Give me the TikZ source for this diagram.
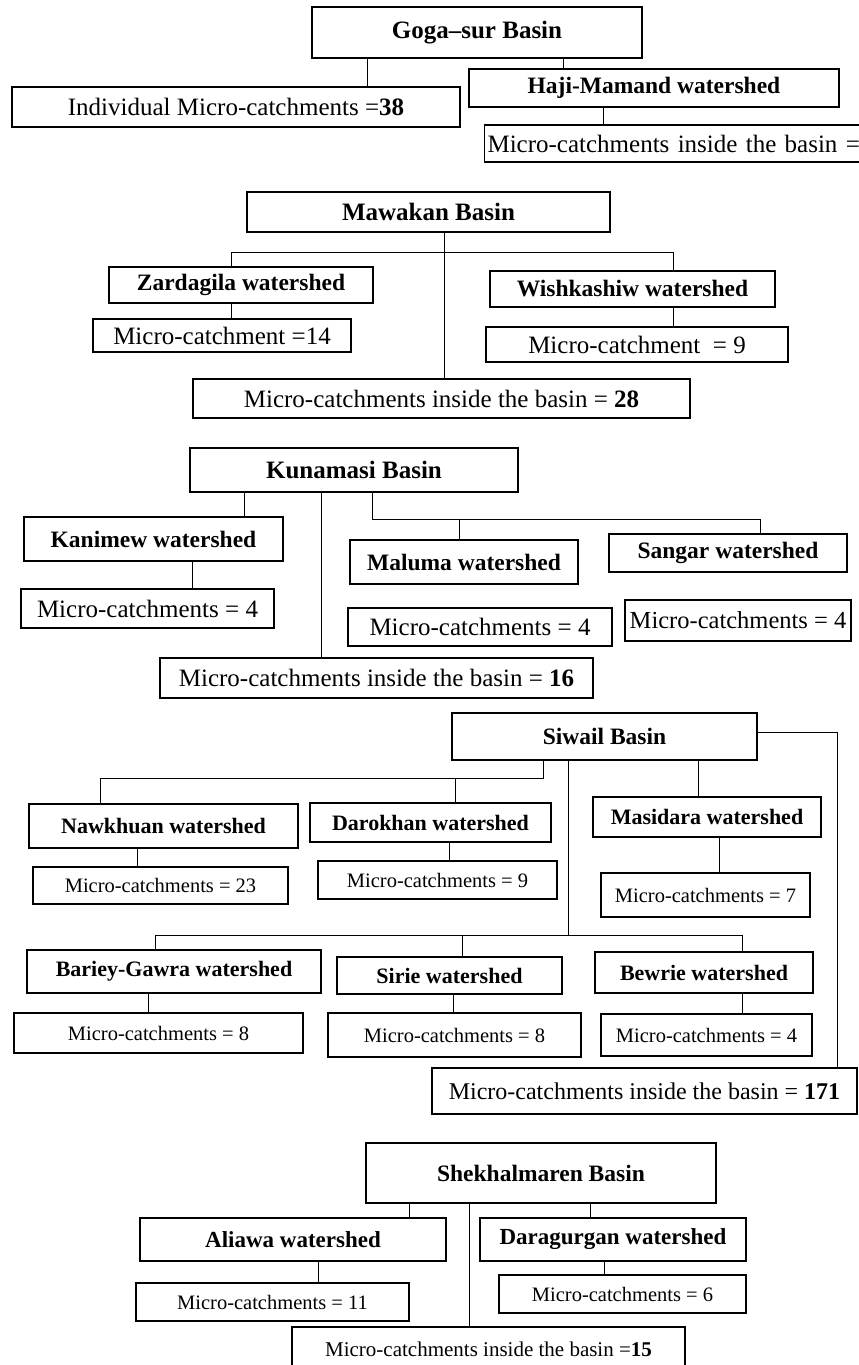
\documentclass[tikz,border=0pt]{standalone}
\usepackage{fontspec}
\setmainfont{Liberation Serif}
\usetikzlibrary{positioning}

\begin{document}
\begin{tikzpicture}[x=1pt, y=-1pt,
  basebox/.style={draw, line width=1.1pt, rectangle, inner sep=0pt},
  headbig/.style={basebox, font=\fontsize{25}{30}\selectfont\bfseries},
  head/.style={basebox, font=\fontsize{23.5}{28}\selectfont\bfseries},
  headsm/.style={basebox, font=\fontsize{22}{26}\selectfont\bfseries},
  count/.style={basebox, font=\fontsize{25}{30}\selectfont},
  countsm/.style={basebox, font=\fontsize{20.5}{24}\selectfont},
  link/.style={line width=0.9pt}]
\useasboundingbox (0,0) rectangle (859,1365);

% Goga-sur
\node[headbig, minimum width=330, minimum height=51] (goga) at (477,32.5) {Goga--sur Basin};
\node[count, minimum width=448, minimum height=40] (indiv) at (236,107) {Individual Micro-catchments =\textbf{38}};
\node[head, minimum width=370, minimum height=38] (haji) at (654,88) {Haji-Mamand watershed};
\node[count, anchor=west, inner xsep=3pt, text width=424, align=left, minimum height=37] (hajiin) at (484,143.5) {Micro-catchments inside the basin =};
\draw[link] (367,0 |- goga.south) -- (367,0 |- indiv.north);
\draw[link] (563,0 |- goga.south) -- (563,0 |- haji.north);
\draw[link] (603,0 |- haji.south) -- (603,0 |- hajiin.north);

% Mawakan
\node[headbig, minimum width=363, minimum height=40] (mawakan) at (428.5,212) {Mawakan Basin};
\node[head, minimum width=264, minimum height=36] (zard) at (241,285) {Zardagila watershed};
\node[head, minimum width=285, minimum height=36] (wish) at (632.5,289) {Wishkashiw watershed};
\node[count, minimum width=258, minimum height=33] (zardmc) at (222,335.5) {Micro-catchment =14};
\node[count, minimum width=302, minimum height=35] (wishmc) at (637,344.5) {Micro-catchment \ = 9};
\node[count, minimum width=497, minimum height=39] (mawin) at (441.5,398.5) {Micro-catchments inside the basin = \textbf{28}};
\coordinate (mawL) at (231,252);
\coordinate (mawR) at (673,252);
\draw[link] (mawL |- zard.north) -- (mawL) -- (mawR) -- (mawR |- wish.north);
\draw[link] (444,0 |- mawakan.south) -- (444,0 |- mawin.north);
\draw[link] (231,0 |- zard.south) -- (231,0 |- zardmc.north);
\draw[link] (673,0 |- wish.south) -- (673,0 |- wishmc.north);

% Kunamasi
\node[headbig, minimum width=328, minimum height=44] (kuna) at (354,470) {Kunamasi Basin};
\node[head, minimum width=259, minimum height=44] (kani) at (153.5,539) {Kanimew watershed};
\node[head, minimum width=228, minimum height=44] (maluma) at (464,562) {Maluma watershed};
\node[head, minimum width=238, minimum height=38] (sangar) at (728,553) {Sangar watershed};
\node[count, minimum width=253, minimum height=39] (kanimc) at (147.5,608.5) {Micro-catchments = 4};
\node[count, minimum width=264, minimum height=38] (malmc) at (480,627) {Micro-catchments = 4};
\node[count, font=\fontsize{24.5}{29}\selectfont, minimum width=226, minimum height=41] (sangmc) at (738,620.5) {Micro-catchments = 4};
\node[count, minimum width=433, minimum height=40] (kunain) at (376.5,678) {Micro-catchments inside the basin = \textbf{16}};
\coordinate (kunaL) at (372,519);
\coordinate (kunaR) at (760,519);
\draw[link] (244,0 |- kuna.south) -- (244,0 |- kani.north);
\draw[link] (321,0 |- kuna.south) -- (321,0 |- kunain.north);
\draw[link] (kunaL |- kuna.south) -- (kunaL) -- (kunaR) -- (kunaR |- sangar.north);
\draw[link] (459,519) -- (459,0 |- maluma.north);
\draw[link] (192,0 |- kani.south) -- (192,0 |- kanimc.north);

% Siwail
\node[head, minimum width=305, minimum height=47] (siwail) at (604.5,736.5) {Siwail Basin};
\node[headsm, minimum width=269, minimum height=44] (nawk) at (163.5,826) {Nawkhuan watershed};
\node[headsm, minimum width=241, minimum height=39] (darok) at (430.5,822.5) {Darokhan watershed};
\node[headsm, minimum width=228, minimum height=40] (masid) at (707,817) {Masidara watershed};
\node[countsm, minimum width=255, minimum height=37] (nawkmc) at (160.5,885.5) {Micro-catchments = 23};
\node[countsm, minimum width=239, minimum height=38] (darokmc) at (437.5,880) {Micro-catchments = 9};
\node[countsm, minimum width=209, minimum height=44] (masidmc) at (705.5,895) {Micro-catchments = 7};
\node[headsm, minimum width=294, minimum height=43] (bariey) at (174,971.5) {Bariey-Gawra watershed};
\node[headsm, minimum width=225, minimum height=37] (sirie) at (449.5,975.5) {Sirie watershed};
\node[headsm, minimum width=218, minimum height=41] (bewrie) at (704,972.5) {Bewrie watershed};
\node[countsm, minimum width=289, minimum height=40] (barieymc) at (158.5,1033) {Micro-catchments = 8};
\node[countsm, minimum width=253, minimum height=44] (siriemc) at (454.5,1035) {Micro-catchments = 8};
\node[countsm, minimum width=211, minimum height=42] (bewriemc) at (706.5,1035) {Micro-catchments = 4};
\node[count, font=\fontsize{24}{29}\selectfont, minimum width=425, minimum height=46] (siwin) at (644.5,1091) {Micro-catchments inside the basin = \textbf{171}};
\coordinate (siwA) at (543,778);
\coordinate (siwB) at (100,778);
\coordinate (siwC) at (568,935);
\coordinate (siwD) at (155,935);
\coordinate (siwE) at (742,935);
\coordinate (siwF) at (837,732);
\draw[link] (siwA |- siwail.south) -- (siwA) -- (siwB) -- (siwB |- nawk.north);
\draw[link] (455,778) -- (455,0 |- darok.north);
\draw[link] (698,0 |- siwail.south) -- (698,0 |- masid.north);
\draw[link] (siwC |- siwail.south) -- (siwC);
\draw[link] (siwD |- bariey.north) -- (siwD) -- (siwE) -- (siwE |- bewrie.north);
\draw[link] (462,935) -- (462,0 |- sirie.north);
\draw[link] (siwail.east |- siwF) -- (siwF) -- (siwF |- siwin.north);
\draw[link] (137,0 |- nawk.south) -- (137,0 |- nawkmc.north);
\draw[link] (449,0 |- darok.south) -- (449,0 |- darokmc.north);
\draw[link] (719,0 |- masid.south) -- (719,0 |- masidmc.north);
\draw[link] (148,0 |- bariey.south) -- (148,0 |- barieymc.north);
\draw[link] (453,0 |- sirie.south) -- (453,0 |- siriemc.north);
\draw[link] (742,0 |- bewrie.south) -- (742,0 |- bewriemc.north);

% Shekhalmaren
\node[head, minimum width=350, minimum height=60] (shekh) at (541,1173) {Shekhalmaren Basin};
\node[head, font=\fontsize{23}{28}\selectfont\bfseries, minimum width=306, minimum height=43] (aliawa) at (293,1239.5) {Aliawa watershed};
\node[head, font=\fontsize{23}{28}\selectfont\bfseries, minimum width=266, minimum height=43] (darag) at (613,1239.5) {Daragurgan watershed};
\node[countsm, minimum width=273, minimum height=38] (alimc) at (272.5,1302) {Micro-catchments = 11};
\node[countsm, minimum width=247, minimum height=38] (daragmc) at (622.5,1294) {Micro-catchments = 6};
\node[countsm, font=\fontsize{21}{25}\selectfont, minimum width=393, minimum height=44] (shekin) at (488.5,1349) {Micro-catchments inside the basin =\textbf{15}};
\draw[link] (409,0 |- shekh.south) -- (409,0 |- aliawa.north);
\draw[link] (590,0 |- shekh.south) -- (590,0 |- darag.north);
\draw[link] (469,0 |- shekh.south) -- (469,0 |- shekin.north);
\draw[link] (318,0 |- aliawa.south) -- (318,0 |- alimc.north);
\draw[link] (604,0 |- darag.south) -- (604,0 |- daragmc.north);
\end{tikzpicture}
\end{document}
